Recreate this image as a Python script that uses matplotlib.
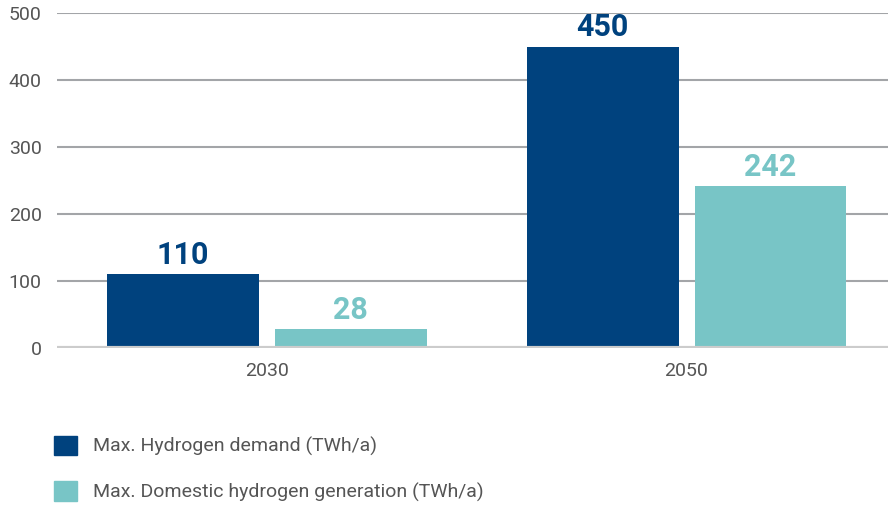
import matplotlib

matplotlib.use("Agg")
import matplotlib.pyplot as plt  # noqa: E402
import numpy as np  # noqa: E402
from matplotlib.patches import Patch  # noqa: E402

years = ["2030", "2050"]
demand = [110, 450]
generation = [28, 242]
series_labels = ["Max. Hydrogen demand (TWh/a)", "Max. Domestic hydrogen generation (TWh/a)"]
yticks = [0, 100, 200, 300, 400, 500]

DARK = "#00427e"
LIGHT = "#78c5c6"
GRID = "#a3a5a8"
TEXT = "#555555"

plt.rcParams["font.family"] = ["Roboto", "DejaVu Sans"]

fig = plt.figure(figsize=(8.88, 5.05), dpi=100)
ax = fig.add_axes([0.0642, 0.311, 0.9358, 0.663])

x = np.arange(len(years))
width = 0.362
offset = 0.2
bars_d = ax.bar(x - offset, demand, width, color=DARK, zorder=3)
bars_g = ax.bar(x + offset, generation, width, color=LIGHT, zorder=3)

for bars, color in ((bars_d, DARK), (bars_g, LIGHT)):
    for b in bars:
        ax.annotate(f"{b.get_height():.0f}", (b.get_x() + b.get_width() / 2, b.get_height()),
                    xytext=(0, 3), textcoords="offset points", ha="center", va="bottom",
                    fontsize=22, fontweight="bold", color=color)

ax.set_xlim(-0.5, 1.48)
ax.set_ylim(0, 500)
ax.set_yticks(yticks)
ax.set_xticks(x)
ax.set_xticklabels(years)
ax.tick_params(axis="both", length=0, labelsize=14, labelcolor=TEXT)
ax.tick_params(axis="y", pad=11)
ax.tick_params(axis="x", pad=10)
for y in yticks[1:]:
    ax.axhline(y, color=GRID, lw=1.5, zorder=1)
ax.axhline(0, color="#cccccc", lw=3, zorder=4)
for s in ax.spines.values():
    s.set_visible(False)

handles = [Patch(color=DARK), Patch(color=LIGHT)]
fig.legend(handles, series_labels, loc="upper left", bbox_to_anchor=(0.052, 0.153),
           frameon=False, fontsize=14, labelcolor=TEXT, handlelength=1.2, handleheight=1.2,
           labelspacing=1.27, handletextpad=0.8, borderaxespad=0)

fig.savefig("out.png", dpi=100)
